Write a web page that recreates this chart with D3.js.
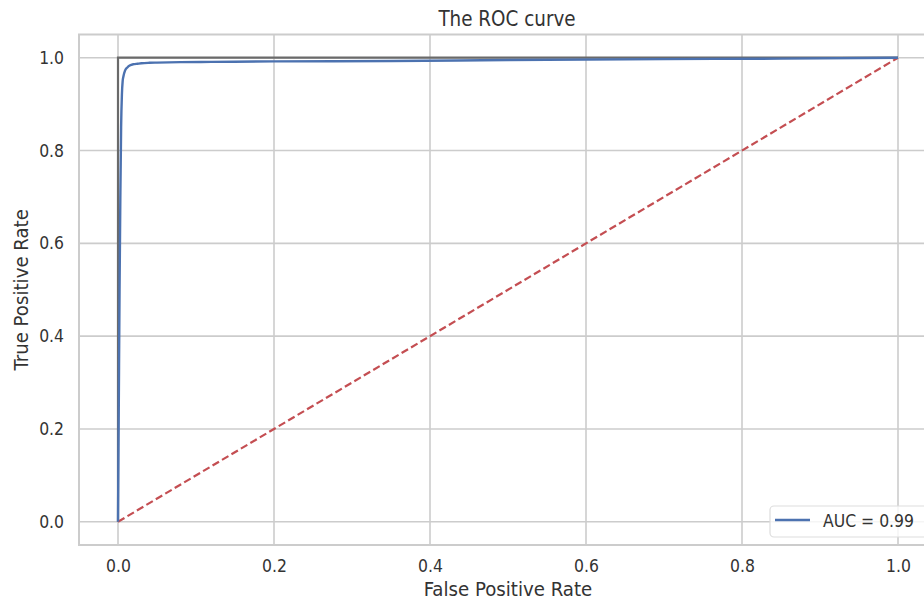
<!DOCTYPE html>
<html lang="en">
<head>
<meta charset="utf-8">
<style>
    body { margin: 0; background: #fff; }
    text { font-family: "DejaVu Sans Condensed", "DejaVu Sans", sans-serif; font-stretch: condensed; fill: #333333; }
</style>
</head>
<body>
<svg id="chart"></svg>
<script src="https://d3js.org/d3.v7.min.js"></script>
<script>
    // roc curve
    var fpr = [0, 0.001, 0.002, 0.003, 0.004, 0.005, 0.006, 0.007, 0.009, 0.012, 0.015, 0.02, 0.025, 0.03, 0.04, 0.05, 0.08, 0.12, 0.2, 0.35, 0.5, 0.7, 0.85, 1.0];
    var tpr = [0, 0.25, 0.5, 0.7, 0.85, 0.92, 0.95, 0.96, 0.972, 0.979, 0.983, 0.986, 0.987, 0.988, 0.989, 0.9895, 0.9905, 0.991, 0.992, 0.993, 0.995, 0.997, 0.998, 1.0];
    // perfect classifier and chance line
    var perfectX = [0, 0, 1];
    var perfectY = [0, 1, 1];
    var chanceX = [0, 1];
    var chanceY = [0, 1];
    var ticks = [0, 0.2, 0.4, 0.6, 0.8, 1.0];
    var aucLabel = "AUC = 0.99";

    var drawRoc = function () {
        var width = 924, height = 600;
        var pLeft = 79, pRight = 937, pTop = 34.5, pBottom = 545;

        var svg = d3.select("#chart").attr("width", width).attr("height", height);

        var x = d3.scaleLinear().domain([-0.05, 1.05]).range([pLeft, pRight]);
        var y = d3.scaleLinear().domain([-0.05, 1.05]).range([pBottom, pTop]);

        // grid lines
        var grid = svg.append("g");
        grid.selectAll("line.vx").data(ticks).enter().append("line")
            .attr("class", "vx")
            .attr("x1", function (d) { return x(d); })
            .attr("x2", function (d) { return x(d); })
            .attr("y1", pTop).attr("y2", pBottom)
            .attr("stroke", "#cccccc").attr("stroke-width", 1.6);
        grid.selectAll("line.hy").data(ticks).enter().append("line")
            .attr("class", "hy")
            .attr("y1", function (d) { return y(d); })
            .attr("y2", function (d) { return y(d); })
            .attr("x1", pLeft).attr("x2", pRight)
            .attr("stroke", "#cccccc").attr("stroke-width", 1.6);

        // spines
        svg.append("rect")
            .attr("x", pLeft).attr("y", pTop)
            .attr("width", pRight - pLeft).attr("height", pBottom - pTop)
            .attr("fill", "none").attr("stroke", "#cccccc").attr("stroke-width", 2);

        // tick labels via axes
        var xAxis = svg.append("g")
            .attr("transform", "translate(0," + pBottom + ")")
            .call(d3.axisBottom(x).tickValues(ticks).tickFormat(d3.format(".1f")).tickSize(0).tickPadding(15));
        var yAxis = svg.append("g")
            .attr("transform", "translate(" + pLeft + ",0)")
            .call(d3.axisLeft(y).tickValues(ticks).tickFormat(d3.format(".1f")).tickSize(0).tickPadding(15));
        [xAxis, yAxis].forEach(function (a) {
            a.select(".domain").remove();
            a.attr("font-family", null).attr("font-size", null);
            a.selectAll("text").attr("font-size", "17.4px").attr("fill", "#333333");
        });

        var line = d3.line()
            .x(function (d) { return x(d[0]); })
            .y(function (d) { return y(d[1]); });

        svg.append("path")
            .attr("d", line(perfectX.map(function (v, i) { return [v, perfectY[i]]; })))
            .attr("fill", "none").attr("stroke", "#6a6a6a").attr("stroke-width", 2.2);

        svg.append("path")
            .attr("d", line(chanceX.map(function (v, i) { return [v, chanceY[i]]; })))
            .attr("fill", "none").attr("stroke", "#c44e52").attr("stroke-width", 2.2)
            .attr("stroke-dasharray", "7.5,3.5");

        svg.append("path")
            .attr("d", line.curve(d3.curveMonotoneX)(fpr.map(function (v, i) { return [v, tpr[i]]; })))
            .attr("fill", "none").attr("stroke", "#4c72b0").attr("stroke-width", 2.4);

        // legend
        var lg = svg.append("g");
        lg.append("rect")
            .attr("x", 770).attr("y", 506).attr("width", 170).attr("height", 31).attr("rx", 4)
            .attr("fill", "#ffffff").attr("fill-opacity", 0.8)
            .attr("stroke", "#dddddd").attr("stroke-width", 1.2);
        lg.append("line")
            .attr("x1", 775).attr("x2", 810).attr("y1", 520).attr("y2", 520)
            .attr("stroke", "#4c72b0").attr("stroke-width", 2.4);
        lg.append("text")
            .attr("x", 823).attr("y", 526.5).attr("font-size", "17.4px").text(aucLabel);

        // titles
        svg.append("text")
            .attr("x", (pLeft + pRight) / 2 - 1).attr("y", 26)
            .attr("text-anchor", "middle").attr("font-size", "20.4px").text("The ROC curve");
        svg.append("text")
            .attr("x", (pLeft + pRight) / 2).attr("y", 596)
            .attr("text-anchor", "middle").attr("font-size", "20.2px").text("False Positive Rate");
        svg.append("text")
            .attr("transform", "translate(27.5," + ((pTop + pBottom) / 2) + ") rotate(-90)")
            .attr("text-anchor", "middle").attr("font-size", "20.2px").text("True Positive Rate");
    };

    drawRoc();
</script>
</body>
</html>
